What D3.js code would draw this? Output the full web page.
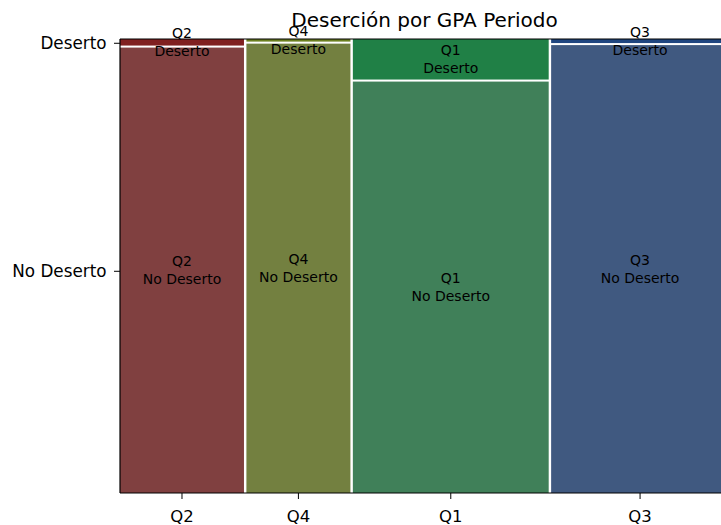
<!DOCTYPE html>
<html>
<head>
<meta charset="utf-8">
<script src="https://cdn.jsdelivr.net/npm/d3@7"></script>
<style>
  html, body { margin: 0; padding: 0; background: #fff; }
  svg { display: block; }
  text { font-family: "DejaVu Sans", sans-serif; }
</style>
</head>
<body>
<svg id="chart" width="721" height="525"></svg>
<script>
// ---- data ----
const categories = ["Q2", "Q4", "Q1", "Q3"];
const outcomes = ["No Deserto", "Deserto"];           // bottom -> top
const noDesertoCounts = [612, 518, 893, 883];
const desertoCounts   = [9, 3, 88, 8];
const hues = [0.0, 0.2, 0.4, 0.6];                     // statsmodels default hue per category
const saturations = [0.5, 0.75];                       // per outcome
const titleText = "Deserción por GPA Periodo";

// ---- layout ----
const svg = d3.select("#chart");
const margin = { left: 120, top: 39, right: 729, bottom: 493 };
const x = d3.scaleLinear().domain([0, 1]).range([margin.left, margin.right]);
const y = d3.scaleLinear().domain([0, 1]).range([margin.bottom, margin.top]);

function hsv(h, s, v) {
  const i = Math.floor(h * 6), f = h * 6 - i;
  const p = v * (1 - s), q = v * (1 - f * s), t = v * (1 - (1 - f) * s);
  let r, g, b;
  switch (i % 6) {
    case 0: r = v; g = t; b = p; break;
    case 1: r = q; g = v; b = p; break;
    case 2: r = p; g = v; b = t; break;
    case 3: r = p; g = q; b = v; break;
    case 4: r = t; g = p; b = v; break;
    default: r = v; g = p; b = q;
  }
  return d3.rgb(r * 255, g * 255, b * 255).formatHex();
}

const hGap = 0.004, vGap = 0.0045;
const totals = categories.map((c, i) => noDesertoCounts[i] + desertoCounts[i]);
const grand = d3.sum(totals);
const usableW = 1 - hGap * (categories.length - 1);

const tiles = [];
const colCenters = [];
let cx = 0;
categories.forEach((cat, i) => {
  const w = totals[i] / grand * usableW;
  colCenters.push(cx + w / 2);
  const vals = [noDesertoCounts[i], desertoCounts[i]];
  const usableH = 1 - vGap;
  let cy = 0;
  vals.forEach((v, j) => {
    const h = v / totals[i] * usableH;
    tiles.push({ cat, outcome: outcomes[j], x0: cx, x1: cx + w, y0: cy, y1: cy + h,
                 color: hsv(hues[i], saturations[j], 0.5) });
    cy += h + vGap;
  });
  cx += w + hGap;
});

// tiles
svg.append("g").selectAll("rect").data(tiles).join("rect")
  .attr("x", d => x(d.x0))
  .attr("y", d => y(d.y1))
  .attr("width", d => x(d.x1) - x(d.x0))
  .attr("height", d => y(d.y0) - y(d.y1))
  .attr("fill", d => d.color);

// spines
const sp = svg.append("g").attr("stroke", "#000").attr("stroke-width", 1.2);
sp.append("line").attr("x1", x(0)).attr("x2", x(0)).attr("y1", y(0)).attr("y2", y(1));
sp.append("line").attr("x1", x(0)).attr("x2", x(1)).attr("y1", y(0)).attr("y2", y(0));
sp.append("line").attr("x1", x(0)).attr("x2", x(1)).attr("y1", y(1)).attr("y2", y(1));

// x axis ticks
const xTicks = svg.append("g");
categories.forEach((c, i) => {
  const px = x(colCenters[i]);
  xTicks.append("line").attr("x1", px).attr("x2", px)
    .attr("y1", y(0)).attr("y2", y(0) + 6).attr("stroke", "#000").attr("stroke-width", 1);
  xTicks.append("text").attr("x", px).attr("y", y(0) + 29)
    .attr("text-anchor", "middle").attr("font-size", 16.5).attr("fill", "#000").text(c);
});

// y axis ticks (from first column)
const yTicks = svg.append("g");
tiles.filter(t => t.cat === categories[0]).forEach(t => {
  const py = y((t.y0 + t.y1) / 2) + 1;
  yTicks.append("line").attr("x1", x(0) - 6).attr("x2", x(0))
    .attr("y1", py).attr("y2", py).attr("stroke", "#000").attr("stroke-width", 1);
  yTicks.append("text").attr("x", x(0) - 13.5).attr("y", py)
    .attr("dy", "0.35em").attr("text-anchor", "end").attr("font-size", 16.8)
    .attr("fill", "#000").text(t.outcome);
});

// tile labels
const lab = svg.append("g");
tiles.forEach(t => {
  const px = x((t.x0 + t.x1) / 2);
  const py = y((t.y0 + t.y1) / 2);
  const tx = lab.append("text").attr("text-anchor", "middle").attr("font-size", 14).attr("fill", "#000");
  tx.append("tspan").attr("x", px).attr("y", py - 9).attr("dy", "0.35em").text(t.cat);
  tx.append("tspan").attr("x", px).attr("y", py + 9).attr("dy", "0.35em").text(t.outcome);
});

// title
svg.append("text").attr("x", x(0.5)).attr("y", 27).attr("text-anchor", "middle")
  .attr("font-size", 20).attr("fill", "#000").text(titleText);
</script>
</body>
</html>
